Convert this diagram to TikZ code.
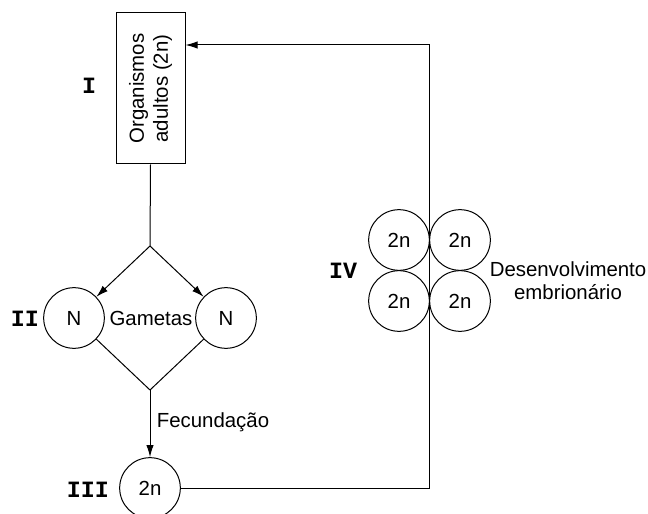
\documentclass[tikz,border=0pt]{standalone}
\usepackage{fontspec}
\setmainfont{Liberation Sans}
\newfontfamily\numfont{Liberation Mono}
\usetikzlibrary{arrows.meta}
\begin{document}
\begin{tikzpicture}[x=0.75pt, y=-0.75pt, line width=0.75pt,
    boxStyle/.style={rectangle, draw, minimum width=51.75pt, minimum height=113.25pt},
    cellStyle/.style={circle, draw, inner sep=0pt, minimum size=45.5pt},
    textStyle/.style={font=\fontsize{15.3}{17}\selectfont, align=center},
    numStyle/.style={font=\numfont\bfseries\fontsize{17.5}{19}\selectfont},
    arrowStyle/.style={-{Latex[length=9pt, width=5.5pt]}}]
    \useasboundingbox (0,0) rectangle (648,513);
    % adult organisms
    \node[boxStyle] (cycle_box) at (150.5, 88.5) {};
    \node[textStyle, rotate=90, font=\fontsize{15.3}{18}\selectfont] (cycle_boxText) at (cycle_box) {Organismos\\adultos (2n)};
    \node[numStyle] (num_I) at (89, 86) {I};
    % gametes
    \coordinate (cycle_split) at (150, 246);
    \node[cellStyle] (cycle_N0) at ( 74, 318) {\fontsize{15.3}{17}\selectfont N};
    \node[cellStyle] (cycle_N1) at (226, 318) {\fontsize{15.3}{17}\selectfont N};
    \node[textStyle] (cycle_gam) at (151, 318) {Gametas};
    \node[numStyle] (num_II) at (25, 319) {II};
    \coordinate (cycle_join) at (150, 390);
    % zygote
    \node[cellStyle] (cycle_zyg) at (150, 488) {\fontsize{15.3}{17}\selectfont 2n};
    \node[textStyle] (cycle_fec) at (213, 422) {Fecundação};
    \node[numStyle] (num_III) at (88, 490) {III};
    % embryo
    \node[cellStyle] (emb_0) at (399, 240) {\fontsize{15.3}{17}\selectfont 2n};
    \node[cellStyle] (emb_1) at (460, 240) {\fontsize{15.3}{17}\selectfont 2n};
    \node[cellStyle] (emb_2) at (399, 301) {\fontsize{15.3}{17}\selectfont 2n};
    \node[cellStyle] (emb_3) at (460, 301) {\fontsize{15.3}{17}\selectfont 2n};
    \node[textStyle] (emb_text) at (568, 281) {Desenvolvimento\\embrionário};
    \node[numStyle] (num_IV) at (343, 271) {IV};
    \coordinate (cycle_turn) at (429, 45);
    % connectors
    \draw (cycle_box.south) -- (cycle_split);
    \draw[arrowStyle] (cycle_split) -- (cycle_N0);
    \draw[arrowStyle] (cycle_split) -- (cycle_N1);
    \draw (cycle_N0) -- (cycle_join);
    \draw (cycle_N1) -- (cycle_join);
    \draw[arrowStyle] (cycle_join) -- (cycle_zyg);
    \draw[arrowStyle] (cycle_zyg.east) -| (cycle_turn) -- (cycle_turn -| cycle_box.east);
\end{tikzpicture}
\end{document}
